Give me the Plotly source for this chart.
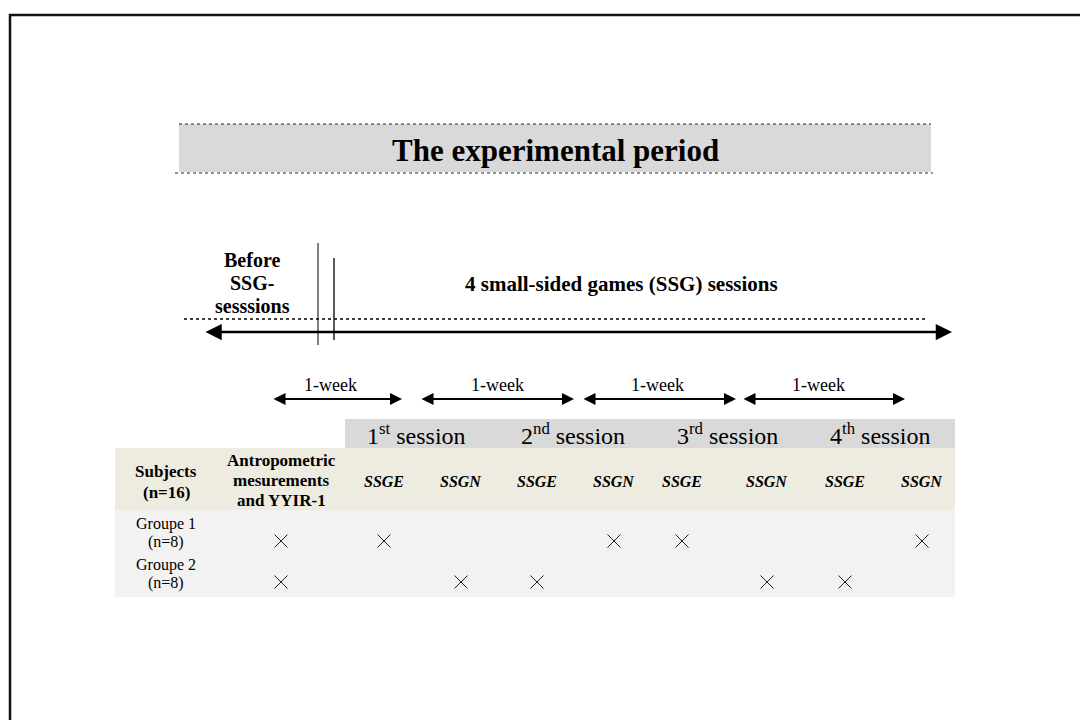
import plotly.graph_objects as go

# ---- data ----
title_text = "The experimental period"
before_lines = ["Before", "SSG-", "sesssions"]
before_y = [260, 283, 306]
period_label = "4 small-sided games (SSG) sessions"
week_labels = ["1-week", "1-week", "1-week", "1-week"]
week_starts = [272, 420, 582, 742]
week_ends = [402, 574, 736, 905]
week_centers = [330, 497, 657, 818]
session_labels = ["1<sup>st</sup> session", "2<sup>nd</sup> session",
                  "3<sup>rd</sup> session", "4<sup>th</sup> session"]
session_centers = [416, 573, 727, 880]
subject_header = ["Subjects", "(n=16)"]
subject_header_y = [471, 492]
antro_header = ["Antropometric", "mesurements", "and YYIR-1"]
antro_header_y = [460, 480, 500]
session_types = ["SSGE", "SSGN", "SSGE", "SSGN", "SSGE", "SSGN", "SSGE", "SSGN"]
col_x = [166, 281, 384, 461, 537, 614, 682, 767, 845, 922]
groups = [["Groupe 1", "(n=8)"], ["Groupe 2", "(n=8)"]]
group_label_y = [[524, 542], [565, 583]]
mark_y = [541, 582]
group1_marks = [1, 1, 0, 0, 1, 1, 0, 0, 1]  # columns 2..10
group2_marks = [1, 0, 1, 1, 0, 0, 1, 1, 0]

FONT = "Liberation Serif, Times New Roman, serif"
BLACK = "#000"

fig = go.Figure()

shapes = []
# border
shapes.append(dict(type="rect", x0=10, y0=15, x1=1110, y1=760,
                   line=dict(color="#111", width=2.5)))
# title box
shapes.append(dict(type="rect", x0=179, y0=124, x1=931, y1=172,
                   fillcolor="#d9d9d9", line=dict(width=0), layer="below"))
shapes.append(dict(type="line", x0=179, y0=124, x1=931, y1=124,
                   line=dict(color="#222", width=1, dash="dot")))
shapes.append(dict(type="line", x0=175, y0=173, x1=933, y1=173,
                   line=dict(color="#222", width=1, dash="dot")))
# vertical lines
shapes.append(dict(type="line", x0=318, y0=243, x1=318, y1=345,
                   line=dict(color=BLACK, width=1)))
shapes.append(dict(type="line", x0=334, y0=258, x1=334, y1=340,
                   line=dict(color=BLACK, width=1.3)))
# dashed line
shapes.append(dict(type="line", x0=184, y0=319, x1=928, y1=319,
                   line=dict(color=BLACK, width=1.3, dash="dot")))
# session gray box
shapes.append(dict(type="rect", x0=345, y0=419, x1=955, y1=448,
                   fillcolor="#d9d9d9", line=dict(width=0), layer="below"))
# header beige row
shapes.append(dict(type="rect", x0=115, y0=448, x1=955, y1=510,
                   fillcolor="#eeece1", line=dict(width=0), layer="below"))
# group rows light gray
shapes.append(dict(type="rect", x0=115, y0=510, x1=955, y1=597,
                   fillcolor="#f2f2f2", line=dict(width=0), layer="below"))

annotations = []


def txt(x, y, t, size, bold=False, italic=False):
    if italic:
        t = "<i>" + t + "</i>"
    if bold:
        t = "<b>" + t + "</b>"
    annotations.append(dict(x=x, y=y, text=t, showarrow=False,
                            font=dict(family=FONT, size=size, color=BLACK)))


txt(555, 150, title_text, 31, bold=True)
for ln, ly in zip(before_lines, before_y):
    txt(252, ly, ln, 20, bold=True)
txt(621, 284, period_label, 21, bold=True)

# big double arrow
annotations.append(dict(x=952, y=332, ax=204, ay=332, axref="x", ayref="y",
                        xref="x", yref="y", text="", showarrow=True,
                        arrowhead=2, arrowside="end+start", arrowsize=1.3,
                        arrowwidth=2.5, arrowcolor=BLACK))
# week arrows and labels
for s, e, c, lab in zip(week_starts, week_ends, week_centers, week_labels):
    annotations.append(dict(x=e, y=399, ax=s, ay=399, axref="x", ayref="y",
                            xref="x", yref="y", text="", showarrow=True,
                            arrowhead=2, arrowside="end+start", arrowsize=1.2,
                            arrowwidth=2, arrowcolor=BLACK))
    txt(c, 385, lab, 18)
# sessions
for c, lab in zip(session_centers, session_labels):
    txt(c, 434, lab, 24)
# headers
for ln, ly in zip(subject_header, subject_header_y):
    txt(col_x[0], ly, ln, 17, bold=True)
for ln, ly in zip(antro_header, antro_header_y):
    txt(col_x[1], ly, ln, 17, bold=True)
for cx, h in zip(col_x[2:], session_types):
    txt(cx, 481, h, 16, bold=True, italic=True)
# group labels
for g, gys in zip(groups, group_label_y):
    for ln, ly in zip(g, gys):
        txt(col_x[0], ly, ln, 16)

# X marks as scatter markers
mx, my = [], []
for marks, gy in zip([group1_marks, group2_marks], mark_y):
    for cx, m in zip(col_x[1:], marks):
        if m:
            mx.append(cx)
            my.append(gy)
fig.add_trace(go.Scatter(x=mx, y=my, mode="markers",
                         marker=dict(symbol="x-thin", size=13,
                                     line=dict(color="#222", width=1)),
                         hoverinfo="skip", showlegend=False))

fig.update_layout(
    width=1080, height=712,
    margin=dict(l=0, r=0, t=0, b=0),
    paper_bgcolor="white", plot_bgcolor="white",
    xaxis=dict(range=[8, 1088], visible=False, fixedrange=True),
    yaxis=dict(range=[720, 8], visible=False, fixedrange=True),
    shapes=shapes, annotations=annotations, showlegend=False,
)
fig.write_html("out.html")
